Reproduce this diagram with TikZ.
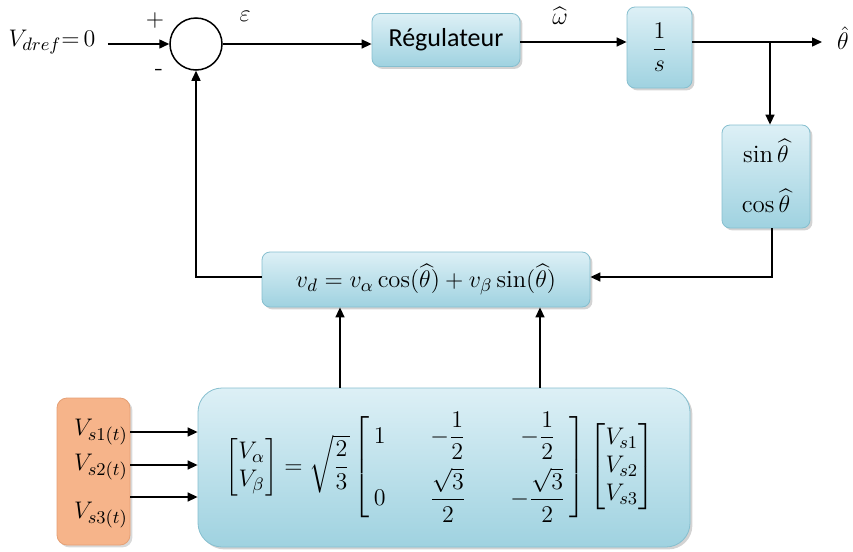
\documentclass[tikz,border=0pt]{standalone}
\usepackage{amsmath}
\usepackage{fontspec}
\newfontfamily\calib{Carlito}
\usetikzlibrary{arrows.meta,shadows,calc}
\definecolor{boxtop}{HTML}{DDF0F6}
\definecolor{boxbot}{HTML}{9FD2E0}
\definecolor{boxedge}{HTML}{86BFCF}
\definecolor{orfill}{HTML}{F6B48A}
\definecolor{oredge}{HTML}{E5A075}
\tikzset{
  bluebox/.style={draw=boxedge, line width=0.4pt, top color=boxtop, bottom color=boxbot, rounded corners=4pt,
     drop shadow={shadow xshift=1.2pt, shadow yshift=-1.2pt, opacity=0.35, fill=gray}, inner sep=0pt, align=center},
  orbox/.style={draw=oredge, line width=0.4pt, fill=orfill, rounded corners=5pt,
     drop shadow={shadow xshift=1.2pt, shadow yshift=-1.2pt, opacity=0.3, fill=gray}, inner sep=0pt},
  arr/.style={line width=0.75pt, -{Triangle[length=5pt,width=4.5pt]}},
  ln/.style={line width=0.75pt},
  lbl/.style={inner sep=0pt, font=\fontsize{12.5}{14}\selectfont}
}
\begin{document}
\begin{tikzpicture}[x=0.5pt,y=-0.5pt]
\useasboundingbox (0,0) rectangle (853,552);
% nodes
\node[lbl] (vref) at (52,42) {$V_{dref}{=}\,0$};
\node[lbl] (plus) at (155,20) {$+$};
\node[lbl] (minus) at (159,72) {-};
\node[draw, circle, line width=0.75pt, minimum size=26pt, inner sep=0pt] (circ) at (196,44) {};
\node[lbl] (eps) at (245,16) {$\varepsilon$};
\node[bluebox, minimum width=74pt, minimum height=26.5pt] (reg) at (446,40) {\calib\fontsize{13}{15}\selectfont Régulateur};
\node[lbl] (om) at (560,16) {$\widehat{\omega}$};
\node[bluebox, minimum width=32.5pt, minimum height=40.5pt] (int) at (659.5,47.5) {\fontsize{13}{15}\selectfont$\dfrac{1}{s}$};
\node[lbl] (th) at (843,38) {$\hat{\theta}$};
\node[bluebox, minimum width=44pt, minimum height=51.5pt] (sc) at (766,176.5) {};
\node[lbl] (sin) at (766,151) {$\sin\widehat{\theta}$};
\node[lbl] (cos) at (766,201) {$\cos\widehat{\theta}$};
\node[bluebox, minimum width=164pt, minimum height=27.5pt] (vd) at (426,279.5) {\fontsize{12.3}{14}\selectfont$v_d = v_\alpha\cos(\widehat{\theta}) + v_\beta\sin(\widehat{\theta})$};
\node[bluebox, rounded corners=12pt, minimum width=246pt, minimum height=79.5pt] (big) at (444,467.5) {};
\node[inner sep=0pt] (eq) at (440,467) {\fontsize{12.4}{14}\selectfont$\begin{bmatrix}V_\alpha\\ V_\beta\end{bmatrix}=\sqrt{\dfrac{2}{3}}\left[\,\begin{matrix}1 & \quad-\dfrac{1}{2}\quad & -\dfrac{1}{2}\\[8pt] 0 & \dfrac{\sqrt{3}}{2} & -\dfrac{\sqrt{3}}{2}\end{matrix}\,\right]\begin{bmatrix}V_{s1}\\ V_{s2}\\ V_{s3}\end{bmatrix}$};
\node[orbox, minimum width=36.5pt, minimum height=73.5pt] (src) at (93.5,471.5) {};
\node[lbl] (s1) at (101,432) {$V_{s1(t)}$};
\node[lbl] (s2) at (101,467) {$V_{s2(t)}$};
\node[lbl] (s3) at (101,515) {$V_{s3(t)}$};
\coordinate (br) at (770,42);
\coordinate (outp) at (822,42);
\coordinate (a1) at (340,0);
\coordinate (a2) at (540,0);
% connectors
\draw[arr, shorten <=6pt] (vref.east |- circ.west) -- (circ.west);
\draw[arr] (circ.east) -- (circ.east -| reg.west);
\draw[arr] (reg.east |- outp) -- (int.west |- outp);
\draw[arr] (int.east |- outp) -- (outp);
\draw[arr] (br) -- (br |- sc.north);
\draw[arr] (772,0 |- sc.south) -- (772,277) -- (vd.east |- 0,277);
\draw[arr] (vd.west |- 0,277) -| (circ.south);
\draw[arr] (a1 |- big.north) -- (a1 |- vd.south);
\draw[arr] (a2 |- big.north) -- (a2 |- vd.south);
\draw[arr] (src.east |- 0,432) -- (big.west |- 0,432);
\draw[arr] (src.east |- 0,465) -- (big.west |- 0,465);
\draw[arr] (src.east |- 0,497) -- (big.west |- 0,497);
\end{tikzpicture}
\end{document}
